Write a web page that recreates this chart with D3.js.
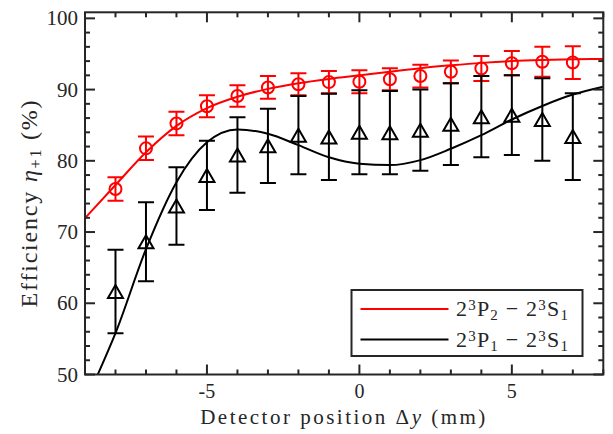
<!DOCTYPE html>
<html>
<head>
<meta charset="utf-8">
<script src="https://cdn.jsdelivr.net/npm/d3@7"></script>
<style>
  body { margin: 0; background: #fff; }
  text { font-family: "Liberation Serif", "DejaVu Serif", serif; fill: #262626; }
</style>
</head>
<body>
<div id="chart"></div>
<script>
// detector positions (mm)
var positions = [-8, -7, -6, -5, -4, -3, -2, -1, 0, 1, 2, 3, 4, 5, 6, 7];

// 2^3P2 - 2^3S1 (red circles)
var p2Values = [76.05, 81.75, 85.25, 87.65, 89.1, 90.3, 90.75, 91.05, 91.1, 91.45, 91.9, 92.5, 92.95, 93.7, 93.9, 93.8];
var p2Errors = [1.65, 1.65, 1.65, 1.55, 1.5, 1.6, 1.55, 1.55, 1.6, 1.55, 1.6, 1.6, 1.75, 1.7, 2.1, 2.3];

// 2^3P1 - 2^3S1 (black triangles)
var p1Values = [61.65, 68.65, 73.65, 77.95, 80.8, 82.1, 83.6, 83.35, 84.0, 83.95, 84.3, 85.15, 86.2, 86.4, 85.8, 83.4];
var p1Errors = [5.85, 5.55, 5.45, 4.85, 5.3, 5.2, 5.5, 6.05, 5.9, 5.85, 5.7, 5.75, 5.7, 5.6, 5.8, 6.1];

// fitted curves
var p2FitX = [-9, -8, -7, -6, -5, -4, -3, -2, -1, 0, 1, 2, 3, 4, 5, 6, 7, 8];
var p2FitY = [71.95, 76.6, 81.2, 84.9, 87.4, 89.0, 90.1, 90.9, 91.5, 92.0, 92.5, 93.0, 93.4, 93.75, 94.0, 94.15, 94.25, 94.3];
var p1FitX = [-8.58, -8, -7, -6, -5, -4, -3, -2, -1, 0, 1, 2, 3, 4, 5, 6, 7, 8];
var p1FitY = [50, 55.8, 67.6, 77.0, 82.6, 84.4, 83.8, 82.2, 80.5, 79.6, 79.4, 80.1, 81.7, 83.6, 85.8, 87.7, 89.3, 90.4];

var xTicks = [-5, 0, 5];
var yTicks = [50, 60, 70, 80, 90, 100];
var legendLabels = [["2", "3", "P", "2", " \u2212 2", "3", "S", "1"], ["2", "3", "P", "1", " \u2212 2", "3", "S", "1"]];

var width = 613, height = 434;
var plotLeft = 85, plotRight = 603.3, plotTop = 12.3, plotBottom = 374.5;
var axisColor = "#262626";

var svg = d3.select("#chart").append("svg")
  .attr("width", width)
  .attr("height", height);

var x = d3.scaleLinear().domain([-9, 8]).range([plotLeft, plotRight]);
var y = d3.scaleLinear().domain([50, 100.85]).range([plotBottom, plotTop]);

svg.append("clipPath").attr("id", "clip")
  .append("rect")
  .attr("x", plotLeft).attr("y", plotTop)
  .attr("width", plotRight - plotLeft).attr("height", plotBottom - plotTop);

var plot = svg.append("g").attr("clip-path", "url(#clip)");

/* fit lines */
var fitLine = d3.line()
  .x(d => x(d[0]))
  .y(d => y(d[1]))
  .curve(d3.curveMonotoneX);

plot.append("path")
  .attr("d", fitLine(d3.zip(p2FitX, p2FitY)))
  .attr("fill", "none")
  .attr("stroke", "#ff0000")
  .attr("stroke-width", 2);

plot.append("path")
  .attr("d", fitLine(d3.zip(p1FitX, p1FitY)))
  .attr("fill", "none")
  .attr("stroke", "#000")
  .attr("stroke-width", 2);

/* error bars */
function drawErrorBars(values, errors, color) {
  var g = plot.append("g")
    .attr("stroke", color)
    .attr("stroke-width", 2)
    .attr("fill", "none");
  var capW = 8;
  positions.forEach(function(p, i) {
    var cx = x(p);
    var yt = y(values[i] + errors[i]);
    var yb = y(values[i] - errors[i]);
    g.append("line").attr("x1", cx).attr("x2", cx).attr("y1", yt).attr("y2", yb);
    g.append("line").attr("x1", cx - capW).attr("x2", cx + capW).attr("y1", yt).attr("y2", yt);
    g.append("line").attr("x1", cx - capW).attr("x2", cx + capW).attr("y1", yb).attr("y2", yb);
  });
  return g;
}

var redBars = drawErrorBars(p2Values, p2Errors, "#ff0000");
redBars.selectAll("circle")
  .data(positions).enter()
  .append("circle")
  .attr("cx", d => x(d))
  .attr("cy", (d, i) => y(p2Values[i]))
  .attr("r", 6);

var blackBars = drawErrorBars(p1Values, p1Errors, "#000");
var triangle = [[0, -6.5], [7.5, 6.5], [-7.5, 6.5]];
blackBars.selectAll("path")
  .data(positions).enter()
  .append("path")
  .attr("d", (d, i) => d3.line()(triangle.map(t => [x(d) + t[0], y(p1Values[i]) + t[1]])) + "Z");

/* axes box and ticks */
var axes = svg.append("g")
  .attr("stroke", axisColor)
  .attr("stroke-width", 2)
  .attr("fill", "none");

var xMinor = d3.range(-9, 9, 1);
var yMinor = d3.range(50, 101, 2);

xMinor.forEach(function(v) {
  var len = xTicks.indexOf(v) >= 0 ? 10 : 5;
  axes.append("line").attr("x1", x(v)).attr("x2", x(v)).attr("y1", plotBottom).attr("y2", plotBottom - len);
  axes.append("line").attr("x1", x(v)).attr("x2", x(v)).attr("y1", plotTop).attr("y2", plotTop + len);
});
yMinor.forEach(function(v) {
  var len = yTicks.indexOf(v) >= 0 ? 10 : 5;
  axes.append("line").attr("x1", plotLeft).attr("x2", plotLeft + len).attr("y1", y(v)).attr("y2", y(v));
  axes.append("line").attr("x1", plotRight).attr("x2", plotRight - len).attr("y1", y(v)).attr("y2", y(v));
});

axes.append("rect")
  .attr("x", plotLeft).attr("y", plotTop)
  .attr("width", plotRight - plotLeft).attr("height", plotBottom - plotTop);

/* tick labels */
svg.append("g").selectAll("text")
  .data(xTicks).enter()
  .append("text")
  .attr("x", d => x(d))
  .attr("y", 398)
  .attr("text-anchor", "middle")
  .style("font-size", "20px")
  .text(d => d < 0 ? "-" + Math.abs(d) : d);

svg.append("g").selectAll("text")
  .data(yTicks).enter()
  .append("text")
  .attr("x", 78)
  .attr("y", d => y(d) + 7)
  .attr("text-anchor", "end")
  .style("font-size", "21px")
  .text(d => d);

/* axis labels */
var xLabel = svg.append("text")
  .attr("x", 344)
  .attr("y", 424)
  .attr("text-anchor", "middle")
  .style("font-size", "21px")
  .style("letter-spacing", "2.5px");
xLabel.append("tspan").text("Detector position \u0394");
xLabel.append("tspan").style("font-style", "italic").text("y");
xLabel.append("tspan").text(" (mm)");

var yLabel = svg.append("text")
  .attr("transform", "translate(37,203) rotate(-90)")
  .attr("text-anchor", "middle")
  .style("font-size", "24px")
  .style("letter-spacing", "1.8px");
yLabel.append("tspan").text("Efficiency ");
yLabel.append("tspan").style("font-style", "italic").text("\u03b7");
yLabel.append("tspan").attr("baseline-shift", "-25%").style("font-size", "16px").text("+1");
yLabel.append("tspan").text(" (%)");

/* legend */
var legend = svg.append("g");
legend.append("rect")
  .attr("x", 351.5).attr("y", 290)
  .attr("width", 231).attr("height", 66)
  .attr("fill", "#fff")
  .attr("stroke", axisColor)
  .attr("stroke-width", 2);

var legendColors = ["#ff0000", "#000"];
legendLabels.forEach(function(parts, i) {
  var ly = 309 + i * 30.5;
  legend.append("line")
    .attr("x1", 360.5).attr("x2", 448.5)
    .attr("y1", ly).attr("y2", ly)
    .attr("stroke", legendColors[i])
    .attr("stroke-width", 2);
  var t = legend.append("text")
    .attr("x", 456)
    .attr("y", ly + 7)
    .style("font-size", "22px")
    .style("letter-spacing", "1.2px");
  parts.forEach(function(p, k) {
    var ts = t.append("tspan").text(p);
    if (k === 1 || k === 5) ts.attr("baseline-shift", "40%").style("font-size", "15px");
    if (k === 3 || k === 7) ts.attr("baseline-shift", "-25%").style("font-size", "15px");
  });
});
</script>
</body>
</html>
